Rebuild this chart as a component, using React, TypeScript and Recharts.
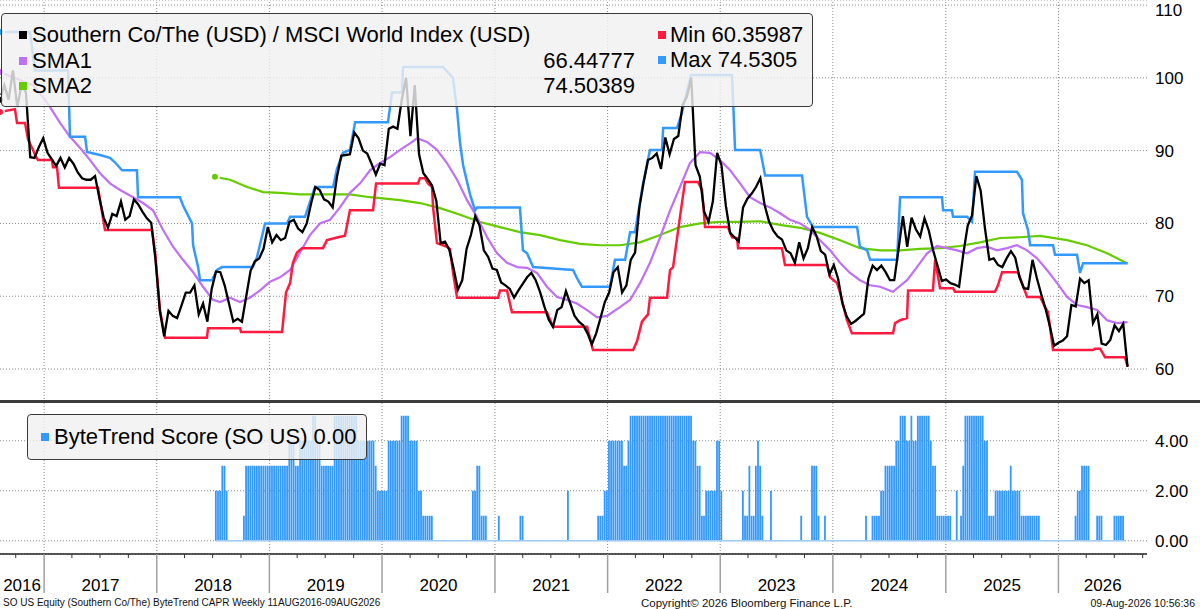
import React from "react";
import {
  ComposedChart,
  Line,
  Bar,
  XAxis,
  YAxis,
  CartesianGrid,
  ReferenceLine,
} from "recharts";

// x axis is counted in weeks since 11 Aug 2016 (first weekly close)
const START = Date.UTC(2016, 7, 11);
const WEEK_MS = 7 * 86400000;
const weekOf = (y: number, m: number) => (Date.UTC(y, m, 1) - START) / WEEK_MS;
const X_MAX = 531;

const YEARS = [2016, 2017, 2018, 2019, 2020, 2021, 2022, 2023, 2024, 2025, 2026];

// Southern Co / MSCI World, one reading every 2 weeks
const PRICE = [
  97, 99, 97, 101, 96, 99, 98, 89.1, 89, 90.5,
  91.7, 89.7, 88.8, 87.9, 89, 87.7, 89, 88.2, 87, 86.2,
  86, 86, 86.5, 83.5, 80.8, 79.4, 81.3, 81, 83, 80.5,
  81, 83.3, 82.6, 81.6, 80.7, 80.1, 75, 68, 64.5, 68,
  67.3, 67, 68.7, 70.5, 70.5, 71.5, 67.5, 69, 66.5, 71,
  73.4, 73.3, 71.5, 69, 66.5, 66.9, 66.5, 70, 73.5, 74.8,
  75.2, 76.5, 79.5, 77.4, 78.4, 77.7, 78, 80.2, 80.5, 79.3,
  78.8, 80, 82.7, 85, 84.6, 83.3, 83, 82.2, 86.4, 89.3,
  89.4, 89.5, 92.5, 91.7, 90, 89.6, 88.2, 86.7, 88.2, 88,
  93, 93.3, 93, 97, 100, 92, 99, 89.5, 86.9, 86.1,
  85.2, 83.1, 77.3, 77.5, 76.4, 73.8, 70.9, 72.2, 76.5, 78.4,
  81, 79.7, 76.3, 75.4, 73.8, 73.6, 71.9, 71.5, 71, 69.8,
  70.8, 71.7, 72.6, 73.2, 72.2, 70.6, 68.6, 66.8, 65.8, 68.1,
  68.5, 70.7, 69, 67.3, 66.5, 66, 64.9, 63.4, 64.9, 67,
  69.2, 70.5, 73.3, 74, 70.5, 71.5, 75, 76, 82.2, 85.7,
  88.7, 89, 89.6, 87.5, 91.8, 89.5, 91.6, 92, 96.3, 97.4,
  100, 88, 86.4, 81.6, 80.2, 83, 89.7, 88, 82.5, 78.7,
  78.1, 77.5, 82.2, 83.4, 84.1, 85, 86.2, 82.5, 80.3, 79,
  78.2, 77.8, 76.3, 75.9, 74.6, 77.4, 75.2, 76.6, 79.5, 78.3,
  76.2, 75.7, 73, 74.3, 72.4, 69, 67.2, 66.2, 66.6, 67.1,
  67.6, 72.4, 74.2, 73.6, 74.2, 73.3, 72.2, 72.2, 76.5, 81,
  76.8, 80.8, 79.2, 78.2, 80.7, 79, 76.3, 74.2, 72.1, 72.3,
  71.8, 71.6, 71.3, 75.9, 79.7, 81.1, 86.5, 84.5, 79.3, 75,
  75.2, 74.3, 74, 75.2, 76.2, 75.3, 72.6, 71.1, 71, 75,
  72.5, 70.3, 68.3, 65.9, 63.2, 63.6, 63.9, 64.5, 68.8, 68.6,
  72.4, 71.8, 72.2, 66.3, 67.5, 63.5, 63.3, 64, 66, 65.2,
  66.2, 60.3,
];

// [week, value]
const MAX_PTS = [
  [0, 106.3], [13.9, 106.3], [16.2, 101], [31.5, 101], [32.4, 91.9], [39.4, 91.9], [40.3, 89.8],
  [46.3, 89.4], [50.9, 89], [53.2, 88.4], [56.5, 87.3], [63.4, 87.3], [63.9, 83.6], [83.3, 83.6],
  [84.7, 82.5], [88.9, 80], [89.4, 77], [91.7, 74], [92.6, 72.2], [98.1, 72.2], [100.5, 73.6],
  [102.8, 74], [117.1, 74], [119, 75.4], [122.7, 80], [132.9, 80], [134.3, 80.9], [141.2, 80.9],
  [145.8, 85], [154.2, 85], [156, 87.5], [158.8, 89.7], [162, 90.1], [164.4, 93.9], [179.6, 93.9],
  [181.5, 98], [186.1, 98], [186.6, 101.5], [205.1, 101.5], [209.7, 100], [211.6, 95.6], [213, 91],
  [214.4, 88], [217.6, 84], [219.9, 81.8], [220.8, 82.2], [240.7, 82.2], [242.1, 76.3], [244, 75.9],
  [246.8, 74], [265.3, 73.6], [267.1, 72.5], [269.4, 71.3], [282.4, 71.3], [284.7, 75], [289.4, 75],
  [291.7, 78.8], [294, 78.8], [297.7, 85.5], [300.9, 90.1], [306.5, 90.1], [307, 93.1], [313.4, 93.1],
  [315.7, 95.2], [318.1, 98.3], [319.9, 100.4], [338.9, 100.4], [340.3, 90.1], [351.9, 90.1],
  [354.2, 86.6], [371.3, 86.6], [373.6, 80.9], [376.4, 79.5], [396.8, 79.5], [398.1, 76.8],
  [401.4, 76.3], [402.8, 75], [415.3, 75], [416.7, 83.6], [436.1, 83.6], [436.6, 81.8], [440.7, 81.8],
  [441.2, 80.9], [447.7, 80.9], [450, 80.2], [451.4, 87.1], [470.8, 87.1], [473.1, 86], [473.6, 81.4],
  [475.9, 79.1], [476.9, 77], [487.5, 77], [488.4, 75.7], [498.6, 75.7], [500, 73.2], [501.4, 74.53],
  [522, 74.53],
];

const MIN_PTS = [
  [0, 95.3], [6.9, 95.7], [7.9, 93.8], [11.6, 93.8], [13, 91.5], [15.3, 90.1], [16.2, 89.4],
  [17.6, 88.7], [24.1, 88.7], [24.5, 87.7], [26.4, 87.7], [27.3, 84.9], [45.4, 84.9], [47.2, 81.6],
  [48.6, 79.1], [70.4, 79.1], [71.8, 76], [74.1, 68], [76.4, 64.3], [95.8, 64.3], [96.3, 65.6],
  [111.1, 65.6], [111.6, 65.1], [130.6, 65.1], [132.4, 70.5], [134.3, 71.8], [135.6, 74.6],
  [137.5, 76], [139.8, 76.6], [149.5, 76.6], [151.4, 77.7], [156.5, 78.1], [159.7, 78.3],
  [162, 81.8], [172.7, 81.8], [174.1, 85.5], [193.5, 85.5], [194.4, 86.2], [196.8, 86.2],
  [198.1, 85.5], [200, 85], [200.5, 82.2], [202.3, 77.3], [206.9, 76.8], [208.3, 76.5],
  [209.7, 73.3], [211.6, 69.8], [230.6, 69.8], [231.5, 70.8], [234.7, 70.8], [237, 67.8],
  [253.2, 67.8], [256, 65.8], [271.8, 65.8], [274.5, 62.6], [293.1, 62.6], [294.9, 63.8],
  [297.2, 66.5], [300, 67.5], [300.9, 69.8], [308.8, 69.8], [310.2, 73.6], [311.6, 74],
  [314.8, 80.9], [317.1, 85.7], [323.1, 85.7], [325, 84.6], [326.4, 79.5], [337, 79.5],
  [338.9, 78.1], [341.2, 78], [341.7, 76.6], [362, 76.6], [363.4, 74.3], [382.9, 74.3],
  [384.3, 72.6], [387.5, 71.8], [388.9, 70.5], [392.1, 66.7], [394.4, 64.9], [413.4, 64.9],
  [414.4, 66.3], [416.7, 66.7], [419.9, 67], [420.4, 70.8], [431.9, 70.8], [432.9, 75],
  [434.3, 72.6], [435.2, 71.1], [441.2, 71.1], [442.1, 70.6], [460.6, 70.6], [462, 71.5],
  [463.9, 73.3], [471.3, 73.3], [473.1, 71.8], [475.5, 69.9], [481.5, 69.9], [483.8, 68.5],
  [485.2, 67.8], [487.5, 62.6], [506, 62.6], [506.9, 62.8], [509.3, 62.8], [511.6, 61.6],
  [520.8, 61.6], [522, 60.36],
];

const SMA1_PTS = [
  [0, 100.8], [9.3, 99.7], [15.3, 99], [20.8, 97], [23.1, 96], [27.8, 93.8], [32.4, 91.9],
  [37, 90.4], [41.7, 88.7], [46.3, 86.9], [50.9, 85.5], [55.6, 84.6], [61.6, 83.6], [66.2, 82.8],
  [70.8, 81.8], [75.5, 79.1], [80.1, 76.8], [84.7, 75], [89.4, 73.3], [94, 71.3], [98.6, 69.5],
  [101.9, 69.2], [106.5, 69.8], [111.1, 69.2], [115.7, 69.8], [120.4, 70.8], [125, 72],
  [129.6, 72.6], [134.3, 73.6], [138.9, 76], [143.5, 78.4], [148.1, 80], [152.8, 80.5],
  [157.4, 82.2], [162, 84.2], [166.7, 85.5], [171.3, 87.3], [175.9, 88.3], [180.6, 89.1],
  [185.2, 90.1], [189.8, 91], [193.1, 91.7], [197.7, 91.2], [202.3, 90.1], [206.9, 88.3],
  [211.6, 86], [216.2, 83.2], [220.8, 80.9], [225.5, 78.1], [230.1, 75.9], [234.7, 74.6],
  [239.4, 74], [244, 73.9], [248.6, 73.2], [253.2, 71.3], [257.9, 69.9], [262.5, 69.5],
  [267.1, 69], [271.8, 68.1], [276.4, 67.1], [281, 67.3], [287, 68.5], [291.7, 69.5],
  [296.3, 71.8], [300.9, 74.6], [305.6, 78.1], [310.2, 81.8], [314.8, 85], [319.4, 88.3],
  [324.1, 89.8], [328.7, 89.7], [333.3, 88.7], [338, 87.3], [342.6, 85.5], [347.2, 83.6],
  [351.9, 82.8], [356.5, 82.2], [361.1, 81.4], [365.7, 80.5], [370.4, 80], [375, 79.1],
  [379.6, 77.7], [384.3, 76.3], [388.9, 74.6], [393.5, 73.2], [398.1, 72.2], [402.8, 71.5],
  [407.4, 71.3], [413.4, 70.6], [419.9, 72.2], [424.5, 74], [429.2, 75.9], [433.8, 76.9],
  [438.4, 76.6], [443.1, 76.3], [447.7, 75.9], [452.3, 76.6], [456.9, 76.8], [461.6, 76.3],
  [466.2, 76.6], [470.8, 77], [475.5, 76.3], [480.1, 75.2], [484.7, 73.6], [489.4, 71.8],
  [494, 69.9], [498.6, 68.8], [503.2, 68.5], [507.9, 68.1], [512.5, 66.7], [517.1, 66.3],
  [522, 66.45],
];

const SMA2_PTS = [
  [99.5, 86.4], [106.5, 86], [114.4, 85], [121.8, 84.3], [129.6, 84.2], [138.9, 84],
  [152.8, 84], [162, 84], [171.3, 83.6], [185.2, 83.2], [194.4, 82.8], [203.7, 82.1],
  [213, 81.2], [222.2, 80.2], [231.5, 79.5], [240.7, 78.8], [250, 78.4], [259.3, 77.7],
  [268.5, 77.2], [277.8, 77], [287, 77], [296.3, 77.4], [305.6, 78.4], [314.8, 79.5],
  [324.1, 80], [333.3, 80.2], [342.6, 80.2], [351.9, 80.3], [361.1, 79.8], [370.4, 79.4],
  [379.6, 78.7], [388.9, 77.7], [398.1, 76.6], [407.4, 76.3], [416.7, 76.3], [425.9, 76.5],
  [435.2, 76.6], [444.4, 76.9], [453.7, 77.4], [463, 78], [472.2, 78.1], [481.5, 78.3],
  [494, 77.7], [503.2, 77], [512.5, 75.9], [522, 74.5],
];

// ByteTrend score, weekly, as [number of weeks, score]
const SCORE_RUNS: [number, number | null][] = [
  [100, null], [3, 2], [2, 3], [1, 2], [7, 0], [1, 1], [20, 3], [3, 4], [2, 3], [6, 4], [2, 5],
  [2, 4], [6, 3], [11, 5], [8, 4], [1, 3], [5, 2], [6, 4], [4, 5], [4, 4], [2, 2], [5, 1],
  [18, 0], [2, 2], [2, 3], [3, 1], [5, 0], [1, 1], [9, 0], [2, 1], [20, 0], [1, 2], [13, 0],
  [3, 1], [2, 2], [7, 4], [2, 3], [1, 4], [29, 5], [2, 4], [2, 3], [2, 1], [5, 2], [2, 4],
  [1, 2], [9, 0], [1, 2], [2, 1], [1, 3], [2, 1], [1, 3], [1, 4], [1, 3], [1, 1], [3, 0],
  [1, 2], [13, 0], [1, 1], [4, 0], [3, 3], [1, 1], [2, 0], [1, 1], [18, 0], [1, 1], [2, 0],
  [4, 1], [2, 2], [5, 3], [2, 4], [3, 5], [2, 4], [1, 5], [2, 4], [6, 5], [1, 4], [2, 3],
  [7, 1], [2, 0], [1, 2], [1, 0], [1, 1], [1, 3], [9, 5], [2, 4], [3, 1], [7, 2], [1, 3],
  [4, 2], [9, 1], [16, 0], [1, 1], [2, 2], [4, 3], [3, 0], [3, 1], [5, 0], [5, 1], [1, 0],
];

const PRICE_TICKS = [60, 70, 80, 90, 100, 110];
const SCORE_TICKS = [0, 2, 4];

const FONT = "'Liberation Sans', Arial, sans-serif";
const GRID = "#8a8a8a";

const priceData = PRICE.map((v, i) => ({ w: i * 2, v }));
const toPts = (arr: number[][]) => arr.map(([w, v]) => ({ w, v }));
const maxData = toPts(MAX_PTS);
const minData = toPts(MIN_PTS);
const sma1Data = toPts(SMA1_PTS);
const sma2Data = toPts(SMA2_PTS);

const scoreData: { w: number; s: number | null; base: number | null }[] = [];
SCORE_RUNS.forEach(([n, s]) => {
  for (let i = 0; i < n; i++) {
    scoreData.push({ w: scoreData.length, s, base: s === null ? null : 0 });
  }
});

const yearStarts = YEARS.slice(1).map((y) => weekOf(y, 0));
const quarterTicks: number[] = [];
YEARS.forEach((y) =>
  [0, 3, 6, 9].forEach((m) => {
    const w = weekOf(y, m);
    if (w > 0 && w < X_MAX) quarterTicks.push(w);
  })
);
const yearMids = YEARS.map((y, i) => {
  const a = i === 0 ? 0 : yearStarts[i - 1];
  const b = i === YEARS.length - 1 ? X_MAX : yearStarts[i];
  return (a + b) / 2;
});

function QuarterTick(props: any) {
  const { x, y, payload } = props;
  const isYear = yearStarts.some((w) => Math.abs(w - payload.value) < 0.01);
  return (
    <line
      x1={x}
      x2={x}
      y1={y}
      y2={y + (isYear ? 39 : 4)}
      stroke={isYear ? "#a0a0a0" : "#333"}
      strokeWidth={isYear ? 1.5 : 1}
    />
  );
}

const sq = (color: string, left: number, top: number) => (
  <div
    style={{
      position: "absolute",
      left,
      top,
      width: 8,
      height: 8,
      background: color,
    }}
  />
);

const txt = (s: string, left: number, top: number, extra: React.CSSProperties = {}) => (
  <div
    style={{
      position: "absolute",
      left,
      top,
      fontSize: 22,
      lineHeight: "22px",
      whiteSpace: "nowrap",
      color: "#000",
      ...extra,
    }}
  >
    {s}
  </div>
);

const foot = (s: string, size: number, pos: React.CSSProperties) => (
  <div
    style={{
      position: "absolute",
      top: 597,
      fontSize: size,
      lineHeight: "12px",
      whiteSpace: "nowrap",
      color: "#111",
      ...pos,
    }}
  >
    {s}
  </div>
);

export default function App() {
  return (
    <div
      style={{
        position: "relative",
        width: 1200,
        height: 609,
        background: "#fff",
        fontFamily: FONT,
        overflow: "hidden",
      }}
    >
      <style>{"body{margin:0}"}</style>

      {/* price panel */}
      <div style={{ position: "absolute", left: 0, top: 0 }}>
        <ComposedChart
          width={1200}
          height={402}
          data={priceData}
          margin={{ top: 0, right: 0, left: 0, bottom: 0 }}
        >
          <CartesianGrid vertical={false} stroke={GRID} strokeDasharray="1 2" />
          <XAxis type="number" dataKey="w" domain={[0, X_MAX]} allowDataOverflow hide />
          <YAxis
            orientation="right"
            width={53}
            domain={[55.47, 110.69]}
            ticks={PRICE_TICKS}
            allowDataOverflow
            axisLine={false}
            tickLine={false}
            tick={{ fontSize: 17, fill: "#000", fontFamily: FONT }}
          />
          {yearStarts.map((w) => (
            <ReferenceLine key={w} x={w} stroke={GRID} strokeDasharray="1 2" />
          ))}
          <Line data={sma2Data} dataKey="v" stroke="#66cc00" strokeWidth={2.2} dot={false} isAnimationActive={false} />
          <Line data={sma1Data} dataKey="v" stroke="#c070f5" strokeWidth={2.2} dot={false} isAnimationActive={false} />
          <Line data={minData} dataKey="v" stroke="#ff1a40" strokeWidth={2.5} dot={false} isAnimationActive={false} />
          <Line data={maxData} dataKey="v" stroke="#3399ff" strokeWidth={2.5} dot={false} isAnimationActive={false} />
          <Line dataKey="v" stroke="#000" strokeWidth={2.3} dot={false} isAnimationActive={false} />
        </ComposedChart>
      </div>

      {/* score panel */}
      <div style={{ position: "absolute", left: 0, top: 402 }}>
        <ComposedChart
          width={1200}
          height={207}
          data={scoreData}
          margin={{ top: 0, right: 0, left: 0, bottom: 0 }}
        >
          <CartesianGrid vertical={false} stroke={GRID} strokeDasharray="1 2" />
          <XAxis
            type="number"
            dataKey="w"
            domain={[0, X_MAX]}
            allowDataOverflow
            ticks={quarterTicks}
            interval={0}
            height={10}
            axisLine={{ stroke: "#222", strokeWidth: 1.5 }}
            tickLine={false}
            tickSize={0}
            tickMargin={0}
            tick={QuarterTick}
          />
          <XAxis
            xAxisId="lbl"
            type="number"
            dataKey="w"
            domain={[0, X_MAX]}
            allowDataOverflow
            ticks={yearMids}
            interval={0}
            height={45}
            axisLine={false}
            tickLine={false}
            tickMargin={9}
            tick={{ fontSize: 17, fill: "#000", fontFamily: FONT }}
            tickFormatter={(v: number) => String(YEARS[yearMids.indexOf(v)])}
          />
          <YAxis
            orientation="right"
            width={53}
            domain={[-0.53, 5.55]}
            ticks={SCORE_TICKS}
            allowDataOverflow
            axisLine={false}
            tickLine={false}
            tick={{ fontSize: 17, fill: "#000", fontFamily: FONT }}
            tickFormatter={(v: number) => v.toFixed(2)}
          />
          {yearStarts.map((w) => (
            <ReferenceLine key={w} x={w} stroke={GRID} strokeDasharray="1 2" />
          ))}
          <Line dataKey="base" stroke="#9fcbf7" strokeWidth={1.5} dot={false} isAnimationActive={false} />
          <Bar dataKey="s" fill="#3399ff" barSize={1.8} isAnimationActive={false} />
        </ComposedChart>
      </div>

      {/* panel separator */}
      <div style={{ position: "absolute", left: 0, top: 400, width: 1200, height: 3, background: "#3c3c3c" }} />

      {/* main legend */}
      <div
        style={{
          position: "absolute",
          left: 1,
          top: 13,
          width: 810,
          height: 92,
          background: "rgba(240,240,240,0.82)",
          border: "1.5px solid #3a3a3a",
          borderRadius: 4,
        }}
      />
      {sq("#000", 19, 31)}
      {txt("Southern Co/The (USD) / MSCI World Index (USD)", 32, 24)}
      {sq("#c070f5", 19, 57)}
      {txt("SMA1", 32, 50)}
      {txt("66.44777", 0, 50, { width: 635, textAlign: "right" })}
      {sq("#66cc00", 19, 82)}
      {txt("SMA2", 32, 75)}
      {txt("74.50389", 0, 75, { width: 635, textAlign: "right" })}
      {sq("#ff1a40", 658, 31)}
      {txt("Min 60.35987", 670, 24)}
      {sq("#3399ff", 658, 56)}
      {txt("Max 74.5305", 670, 49)}

      {/* score legend */}
      <div
        style={{
          position: "absolute",
          left: 27,
          top: 414,
          width: 338,
          height: 44,
          background: "rgba(240,240,240,0.82)",
          border: "1.5px solid #3a3a3a",
          borderRadius: 4,
        }}
      />
      {sq("#3399ff", 41, 433)}
      {txt("ByteTrend Score (SO US) 0.00", 54, 426)}

      {/* footer */}
      {foot("SO US Equity (Southern Co/The) ByteTrend CAPR Weekly 11AUG2016-09AUG2026", 10, { left: 3 })}
      {foot("Copyright\u00a9 2026 Bloomberg Finance L.P.", 11.5, { left: 641 })}
      {foot("09-Aug-2026 10:56:36", 10.5, { right: 5 })}
    </div>
  );
}
